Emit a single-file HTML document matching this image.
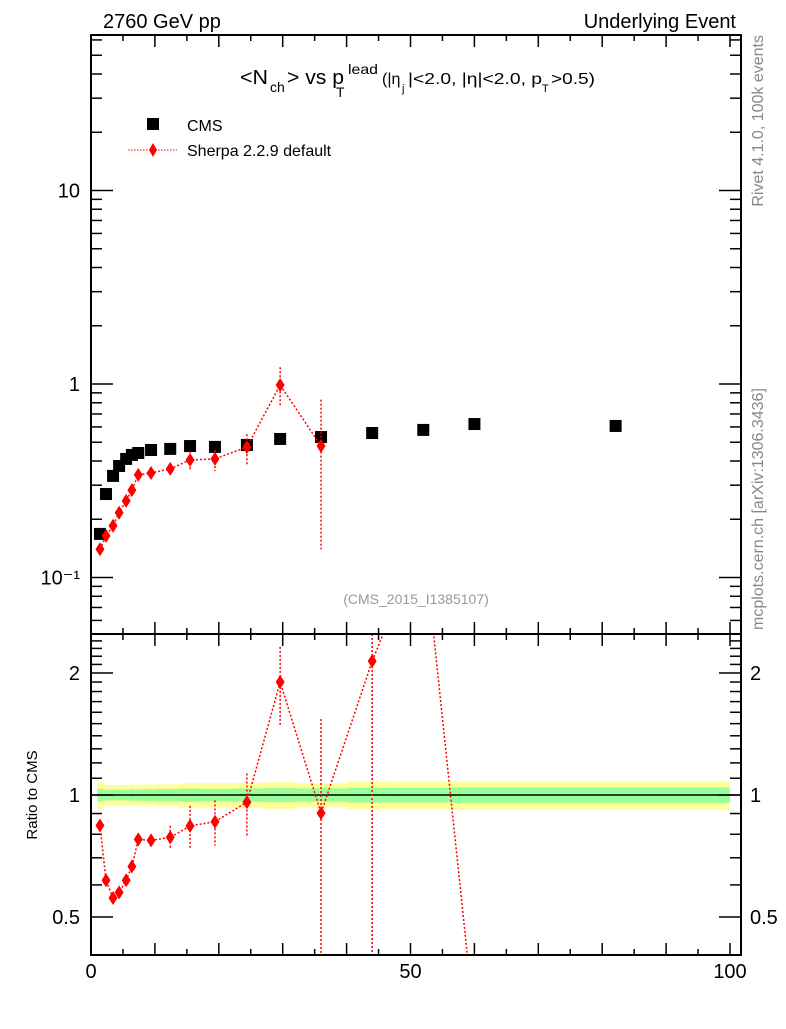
<!DOCTYPE html>
<html><head><meta charset="utf-8"><style>
html,body{margin:0;padding:0;background:#fff;}
svg text{font-family:"Liberation Sans",sans-serif;}
</style></head><body>
<svg id="c" width="786" height="1024" xmlns="http://www.w3.org/2000/svg">
<rect width="786" height="1024" fill="#fff"/>
<g id="bands"></g><g id="grid"></g><g id="marks"></g>
<rect x="91" y="35" width="650" height="599" fill="none" stroke="#000" stroke-width="2"/>
<rect x="91" y="634" width="650" height="321" fill="none" stroke="#000" stroke-width="2"/>
<text x="103" y="28" font-size="20">2760 GeV pp</text>
<text x="736" y="28" font-size="20" text-anchor="end">Underlying Event</text>
<g>
<text x="240" y="84" font-size="20" textLength="28" lengthAdjust="spacingAndGlyphs">&lt;N</text>
<text x="270" y="92" font-size="14">ch</text>
<text x="287" y="84" font-size="20" textLength="57" lengthAdjust="spacingAndGlyphs">&gt; vs p</text>
<text x="348" y="74" font-size="14" textLength="30" lengthAdjust="spacingAndGlyphs">lead</text>
<text x="336" y="97" font-size="14">T</text>
<text x="382" y="84" font-size="16">(|η</text>
<text x="402" y="92" font-size="11">j</text>
<text x="408" y="84" font-size="16" textLength="134" lengthAdjust="spacingAndGlyphs">|&lt;2.0, |η|&lt;2.0, p</text>
<text x="542" y="92" font-size="11">T</text>
<text x="551" y="84" font-size="16" textLength="44" lengthAdjust="spacingAndGlyphs">&gt;0.5)</text>
</g>
<g>
<rect x="147" y="118" width="12" height="12" fill="#000"/>
<text x="187" y="131" font-size="16">CMS</text>
<line x1="128" y1="150" x2="177" y2="150" stroke="red" stroke-dasharray="1.5,1.5"/>
<path d="M153,143 L157,150 L153,157 L149,150Z" fill="red"/>
<text x="187" y="156" font-size="16">Sherpa 2.2.9 default</text>
</g>
<text x="416" y="604" font-size="14" fill="#999" text-anchor="middle">(CMS_2015_I1385107)</text>
<text transform="translate(763,35) rotate(-90)" font-size="16" fill="#888" text-anchor="end">Rivet 4.1.0,  100k events</text>
<text transform="translate(763,630) rotate(-90)" font-size="16" fill="#888">mcplots.cern.ch [arXiv:1306.3436]</text>
<text transform="translate(37,795) rotate(-90)" font-size="15" text-anchor="middle">Ratio to CMS</text>
</svg>
<script>
const cmsX=[1.4,2.35,3.45,4.4,5.5,6.4,7.4,9.4,12.4,15.5,19.4,24.4,29.6,36.0,44.0,52.0,60.0,82.1];
const cmsY=[0.168,0.270,0.335,0.377,0.41,0.43,0.44,0.456,0.462,0.478,0.473,0.484,0.520,0.532,0.558,0.579,0.621,0.607];
const shX=[1.4,2.35,3.45,4.4,5.5,6.4,7.4,9.4,12.4,15.5,19.4,24.4,29.6,36.0];
const shY=[0.140,0.164,0.185,0.216,0.249,0.283,0.339,0.347,0.364,0.405,0.41,0.472,0.988,0.478];
const shHi=[0.143,0.167,0.188,0.22,0.254,0.29,0.35,0.36,0.39,0.45,0.456,0.55,1.22,0.83];
const shLo=[0.137,0.161,0.182,0.212,0.244,0.276,0.33,0.335,0.35,0.355,0.355,0.38,0.77,0.14];
const rX=[1.4,2.35,3.45,4.4,5.5,6.4,7.4,9.4,12.4,15.5,19.4,24.4,29.6,36.0,44.0,52.0,60.0];
const rY=[0.841,0.616,0.557,0.575,0.616,0.666,0.777,0.773,0.786,0.839,0.859,0.96,1.90,0.902,2.14,4.36,0.275];
const rHi=[0.86,0.63,0.57,0.59,0.63,0.68,0.80,0.80,0.84,0.94,0.97,1.13,2.32,1.54,5,4.36,0.275];
const rLo=[0.82,0.60,0.545,0.56,0.60,0.65,0.75,0.75,0.74,0.74,0.75,0.79,1.48,0.3,0.3,4.36,0.275];
const binEdges=[1,2,3,4,5,6,7,8,10,14,17,22,27,32,40,48,56,64,100];
const bandYellow=[0.075,0.06,0.058,0.058,0.06,0.06,0.06,0.06,0.062,0.07,0.07,0.072,0.075,0.068,0.078,0.078,0.08,0.08];
const bandGreen=[0.035,0.03,0.03,0.03,0.03,0.032,0.032,0.033,0.035,0.038,0.036,0.038,0.04,0.038,0.042,0.042,0.044,0.044];
const xTicksMajor=[0,50,100];
const mainTickLabels=["10\u207B\u00B9","1","10"];
const ratioTickVals=[0.5,1,2];
const ratioTickLabels=["0.5","1","2"];

const NS="http://www.w3.org/2000/svg";
const X=v=>91+v*6.39;
const Ym=v=>384-193.5*Math.log10(v);
const Yr=v=>795-122*Math.log2(v);
function mk(parent,tag,attrs){const e=document.createElementNS(NS,tag);for(const k in attrs)e.setAttribute(k,attrs[k]);document.getElementById(parent).appendChild(e);return e;}
const clipR=v=>Math.max(634,Math.min(955,v));
const clipM=v=>Math.max(35,Math.min(634,v));

for(let i=0;i<bandYellow.length;i++){
 let e=mk('bands','rect',{x:X(binEdges[i]),width:X(binEdges[i+1])-X(binEdges[i]),y:Yr(1+bandYellow[i]),height:Yr(1-bandYellow[i])-Yr(1+bandYellow[i]),fill:'#ffff99'});
 
 
 let g=mk('bands','rect',{x:X(binEdges[i]),width:X(binEdges[i+1])-X(binEdges[i]),y:Yr(1+bandGreen[i]),height:Yr(1-bandGreen[i])-Yr(1+bandGreen[i]),fill:'#99ff99'});
 
 
}
let ref=mk('bands','line',{x1:91,x2:741,y1:Yr(1),y2:Yr(1),stroke:'#000','stroke-width':1.5});



for(let v=0;v<=100;v+=5){
 const L=(v%10===0)?12:6;
 for(const [y0,d] of [[35,1],[634,-1],[634,1],[955,-1]]){
  let t=mk('grid','line',{x1:X(v),x2:X(v),y1:y0,y2:y0+d*L,stroke:'#000','stroke-width':1.5});
  
  
 }
}
xTicksMajor.forEach(v=>{let t=mk('grid','text',{x:X(v),y:978,'font-size':20,'text-anchor':'middle'});t.textContent=v;
 
 });
for(let d=-2;d<=1;d++)for(let m=1;m<=9;m++){
 const v=m*Math.pow(10,d),y=Ym(v);if(y<35||y>634)continue;
 const L=m===1?22:11;
 for(const [x0,s] of [[91,1],[741,-1]]){let t=mk('grid','line',{x1:x0,x2:x0+s*L,y1:y,y2:y,stroke:'#000','stroke-width':1.5});
 
 }
}
[0.1,1,10].forEach((v,i)=>{let t=mk('grid','text',{x:80,y:Ym(v)+7,'font-size':20,'text-anchor':'end'});t.textContent=mainTickLabels[i];
 
 });
for(let v=0.4;v<=2.55;v+=0.1){
 const y=Yr(v);if(y<634||y>955)continue;
 const maj=ratioTickVals.some(r=>Math.abs(r-v)<1e-6);const L=maj?22:11;
 for(const [x0,s] of [[91,1],[741,-1]]){let t=mk('grid','line',{x1:x0,x2:x0+s*L,y1:y,y2:y,stroke:'#000','stroke-width':1.5});
 
 }
}
ratioTickVals.forEach((v,i)=>{for(const [x,a] of [[80,'end'],[750,'start']]){let t=mk('grid','text',{x:x,y:Yr(v)+7,'font-size':20,'text-anchor':a});t.textContent=ratioTickLabels[i];
 
 }});

cmsX.forEach((x,i)=>{let r=mk('marks','rect',{x:X(x)-6,y:Ym(cmsY[i])-6,width:12,height:12,fill:'#000'});
 
 });
const dash={stroke:'red','stroke-width':1.5,'stroke-dasharray':'2,2',fill:'none'};
let pl=mk('marks','polyline',Object.assign({points:shX.map((x,i)=>X(x)+','+Ym(shY[i])).join(' ')},dash));


shX.forEach((x,i)=>{
 let e=mk('marks','line',Object.assign({x1:X(x),x2:X(x),y1:clipM(Ym(shHi[i])),y2:clipM(Ym(shLo[i]))},dash));
 
 
 const cx=X(x),cy=Ym(shY[i]);
 let p=mk('marks','path',{d:`M${cx},${cy-7}L${cx+4.5},${cy}L${cx},${cy+7}L${cx-4.5},${cy}Z`,fill:'red'});
 
 
});
const cp=mk('marks','clipPath',{id:'rc'});const cr=document.createElementNS(NS,'rect');
cr.setAttribute('x',91);cr.setAttribute('y',634);cr.setAttribute('width',650);cr.setAttribute('height',321);cp.appendChild(cr);
let rl=mk('marks','polyline',Object.assign({points:rX.map((x,i)=>X(x)+','+Yr(rY[i])).join(' '),'clip-path':'url(#rc)'},dash));


rX.forEach((x,i)=>{
 if(rHi[i]!==rLo[i]){
 let e=mk('marks','line',Object.assign({x1:X(x),x2:X(x),y1:clipR(Yr(rHi[i])),y2:clipR(Yr(rLo[i]))},dash));
 
 
 }
 const cx=X(x),cy=Yr(rY[i]);if(cy<634||cy>955)return;
 let p=mk('marks','path',{d:`M${cx},${cy-7}L${cx+4.5},${cy}L${cx},${cy+7}L${cx-4.5},${cy}Z`,fill:'red'});
 
 
});
</script>
</body></html>
